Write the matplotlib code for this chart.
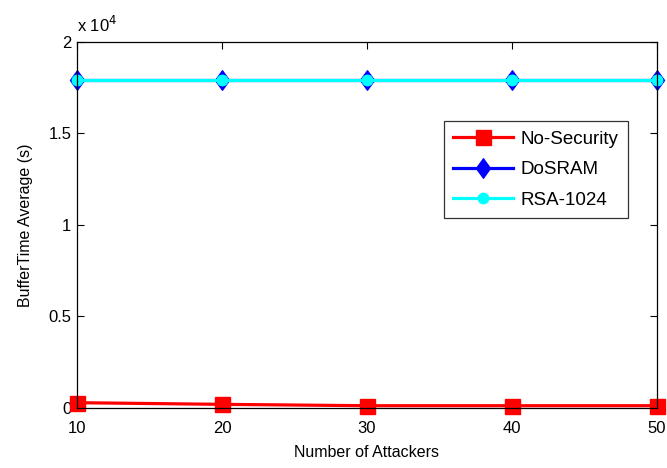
import matplotlib
matplotlib.use("Agg")
import matplotlib.pyplot as plt
from matplotlib.path import Path
from matplotlib.ticker import FuncFormatter, MultipleLocator

plt.rcParams['font.family'] = ['Liberation Sans', 'DejaVu Sans']

attackers = [10, 20, 30, 40, 50]
no_security = [290, 200, 125, 125, 125]
dosram = [17900, 17900, 17900, 17900, 17900]
rsa_1024 = [17900, 17900, 17900, 17900, 17900]

# MATLAB-like diamond: taller than wide
diamond = Path([(0, 1), (0.72, 0), (0, -1), (-0.72, 0), (0, 1)],
               [Path.MOVETO, Path.LINETO, Path.LINETO, Path.LINETO, Path.CLOSEPOLY])

fig = plt.figure(figsize=(6.67, 4.68), dpi=100)
ax = fig.add_axes([0.1154, 0.1282, 0.8696, 0.7821])

ax.plot(attackers, no_security, color='red', lw=2.3, marker='s', ms=10.8,
        mfc='red', mec='red', label='No-Security')
ax.plot(attackers, dosram, color='blue', lw=2.3, marker=diamond, ms=14,
        mfc='blue', mec='blue', label='DoSRAM')
ax.plot(attackers, rsa_1024, color='cyan', lw=2.3, marker='o', ms=7.5,
        mfc='cyan', mec='cyan', label='RSA-1024')

ax.set_xlim(10, 50)
ax.set_ylim(0, 20000)
ax.xaxis.set_major_locator(MultipleLocator(10))
ax.yaxis.set_major_locator(MultipleLocator(5000))
ax.yaxis.set_major_formatter(FuncFormatter(lambda v, p: f"{v / 1e4:g}"))
ax.tick_params(direction='in', length=5, width=0.8, top=True, right=True,
               labelsize=12)
ax.tick_params(axis='x', pad=9)
ax.tick_params(axis='y', pad=4)
for s in ax.spines.values():
    s.set_linewidth(0.9)

for line in ax.get_lines():
    line.set_clip_on(False)

ax.set_xlabel('Number of Attackers', fontsize=11.5, labelpad=7)
ax.set_ylabel('BufferTime Average (s)', fontsize=11.5, labelpad=11)
ax.text(0.0, 1.018, r'x 10$^{4}$', transform=ax.transAxes, fontsize=12,
        ha='left', va='bottom')

leg = ax.legend(loc='upper right', bbox_to_anchor=(0.95, 0.784), fontsize=13.5,
                frameon=True, fancybox=False, edgecolor='black',
                handlelength=3.2, borderpad=0.5, labelspacing=0.72,
                handletextpad=0.4, borderaxespad=0)
leg.get_frame().set_linewidth(0.9)

fig.savefig('out.png', dpi=100)
